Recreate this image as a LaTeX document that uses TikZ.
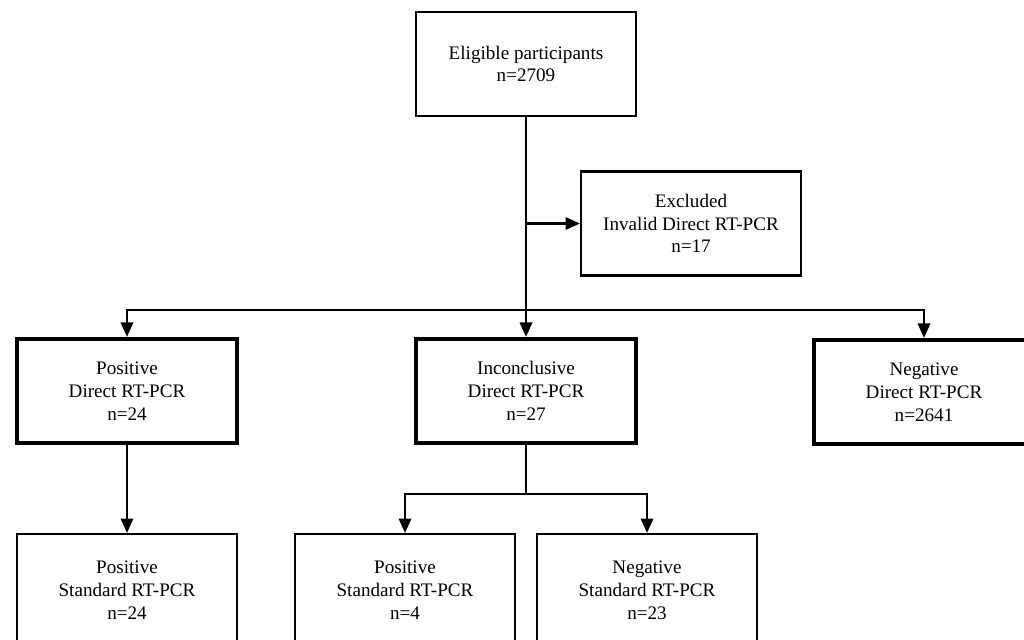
\documentclass[tikz,border=0pt]{standalone}
\usepackage{fontspec}
\setmainfont{Liberation Serif}
\usetikzlibrary{arrows.meta,positioning}
\tikzset{
  flownode/.style = {align=center, inner sep=0pt, text centered, font=\fontsize{13.6}{16.2}\selectfont},
  box_n/.style = {flownode, rectangle, draw=black, fill=white, line width=1.5pt, minimum width=5.5cm, minimum height=2.6cm},
  box_t/.style = {box_n, line width=3pt},
  box_b/.style = {box_n, minimum height=2.8cm},
  conn/.style = {line width=1.5pt},
  arr/.style = {conn, -{Triangle[length=3.6mm,width=3.1mm]}}
}

\begin{document}
\begin{tikzpicture}[x=0.025cm, y=-0.025cm]
	\useasboundingbox (0,0) rectangle (1024,639);
	\clip (0,0) rectangle (1024,639);
	% top and exclusion
	\node [box_n] (elig) at (526,64) {Eligible participants\\n=2709};
	\node [box_n] (excl) at (691,223.5) {Excluded\\Invalid Direct RT-PCR\\n=17};
	% direct RT-PCR results
	\node [box_t] (posd) at (127,391) {Positive\\Direct RT-PCR\\n=24};
	\node [box_t] (incd) at (526,391) {Inconclusive\\Direct RT-PCR\\n=27};
	\node [box_t] (negd) at (924,392) {Negative\\Direct RT-PCR\\n=2641};
	% standard RT-PCR results
	\node [box_b] (poss) at (127,590) {Positive\\Standard RT-PCR\\n=24};
	\node [box_b] (incp) at (405,590) {Positive\\Standard RT-PCR\\n=4};
	\node [box_b] (incn) at (647,590) {Negative\\Standard RT-PCR\\n=23};

	\coordinate (br1) at (elig.south |- 0,310);
	\coordinate (exj) at (elig.south |- excl.west);
	\coordinate (br2) at (incd.south |- 0,494);

	\draw [arr] (elig.south) -- (incd.north);
	\draw [arr] (exj) -- (excl.west);
	\draw [arr] (br1) -| (posd.north);
	\draw [arr] (br1) -| (negd.north);
	\draw [arr] (posd.south) -- (poss.north);
	\draw [conn] (incd.south) -- (br2);
	\draw [arr] (br2) -| (incp.north);
	\draw [arr] (br2) -| (incn.north);
\end{tikzpicture}
\end{document}
